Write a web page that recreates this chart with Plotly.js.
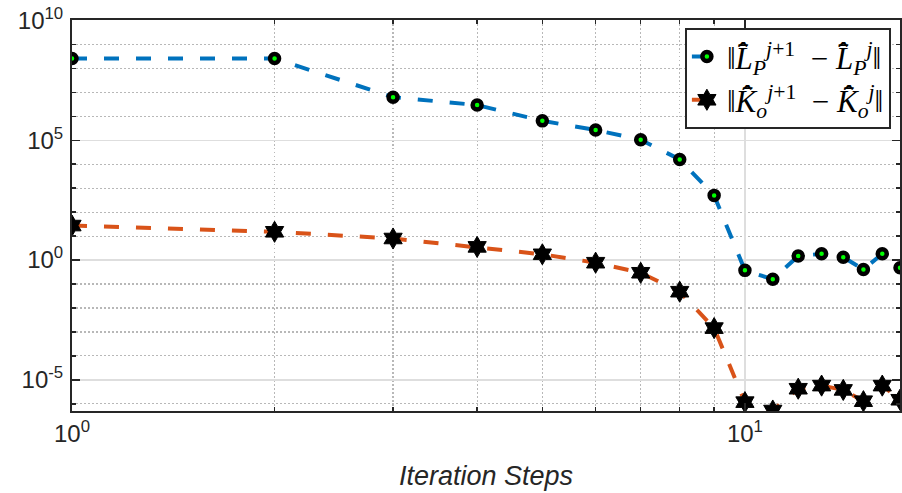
<!DOCTYPE html>
<html>
<head>
<meta charset="utf-8">
<script src="https://cdn.plot.ly/plotly-3.0.1.min.js"></script>
<style>html,body{margin:0;padding:0;background:#fff;}#chart{width:902px;height:493px;}</style>
</head>
<body>
<div id="chart"></div>
<script>
const steps = [1,2,3,4,5,6,7,8,9,10,11,12,13,14,15,16,17];
const logLP = [8.41,8.41,6.80,6.47,5.81,5.43,5.02,4.20,2.70,-0.43,-0.80,0.17,0.26,0.12,-0.39,0.26,-0.32];
const logKo = [1.44,1.18,0.90,0.55,0.24,-0.11,-0.53,-1.32,-2.84,-5.93,-6.28,-5.37,-5.24,-5.42,-5.89,-5.24,-5.83];
const yTickVals = [1e-5,1,1e5,1e10];
const yTickText = ['10<sup>-5</sup>','10<sup>0</sup>','10<sup>5</sup>','10<sup>10</sup>'];
const xTickVals = [1,10];
const xTickText = ['10<sup>0</sup>','10<sup>1</sup>'];
const xMinorVals = [2,3,4,5,6,7,8,9,20];
const yMinorVals = [1e-6,1e-4,1e-3,1e-2,1e-1,1e1,1e2,1e3,1e4,1e6,1e7,1e8,1e9];
const nameLP = '‖<i>L̄̂</i><sub><i>P</i></sub><sup><i>j</i>+1</sup>  − <i>L̄̂</i><sub><i>P</i></sub><sup><i>j</i></sup>‖';
const nameKo = '‖<i>K̄̂</i><sub><i>o</i></sub><sup><i>j</i>+1</sup>  − <i>K̄̂</i><sub><i>o</i></sub><sup><i>j</i></sup>‖';

const LP = logLP.map(v => Math.pow(10, v));
const Ko = logKo.map(v => Math.pow(10, v));

const traces = [
  {x: steps, y: LP, name: nameLP, type: 'scatter', mode: 'lines+markers', cliponaxis: true,
   line: {color: '#0072BD', width: 4, dash: '15px,17px'},
   marker: {symbol: 'circle', size: 9, color: '#00ff00', line: {color: '#000', width: 4.5}}},
  {x: steps, y: Ko, name: nameKo, type: 'scatter', mode: 'lines+markers', cliponaxis: true,
   line: {color: '#D95319', width: 4, dash: '15px,17px'},
   marker: {symbol: 'hexagram', size: 16, color: '#000', line: {color: '#000', width: 1}}}
];

const axisCommon = {
  showline: true, linecolor: '#262626', linewidth: 2, mirror: 'ticks',
  ticks: 'inside', ticklen: 8, tickwidth: 1.5, tickcolor: '#262626',
  showgrid: true, gridcolor: '#dedede', gridwidth: 1.5, zeroline: false,
  tickfont: {family: 'Liberation Sans, Arial, sans-serif', size: 24, color: '#262626'}
};

const layout = {
  width: 902, height: 493,
  margin: {l: 72, r: 2, t: 20, b: 82},
  paper_bgcolor: '#fff', plot_bgcolor: '#fff',
  showlegend: true,
  xaxis: Object.assign({}, axisCommon, {
    type: 'log', range: [0, Math.log10(17)],
    tickvals: xTickVals, ticktext: xTickText,
    minor: {tickvals: xMinorVals, ticks: 'inside', ticklen: 4, tickcolor: '#262626',
            showgrid: true, gridcolor: '#b8b8b8', griddash: '1.5px,2.5px', gridwidth: 1.2},
    title: {text: '<i>Iteration Steps</i>', standoff: 20,
            font: {family: 'Liberation Sans, Arial, sans-serif', size: 27, color: '#262626'}}
  }),
  yaxis: Object.assign({}, axisCommon, {
    type: 'log', range: [-6.3, 10.02],
    tickvals: yTickVals, ticktext: yTickText, ticklabelstandoff: 2,
    minor: {tickvals: yMinorVals, ticks: 'inside', ticklen: 4, tickcolor: '#262626',
            showgrid: true, gridcolor: '#b8b8b8', griddash: '1.5px,2.5px', gridwidth: 1.2}
  }),
  legend: {
    x: 0.989, y: 0.98, xanchor: 'right', yanchor: 'top',
    bgcolor: '#fff', bordercolor: '#262626', borderwidth: 2,
    font: {family: 'Liberation Serif, DejaVu Serif, serif', size: 31, color: '#000'},
    itemwidth: 30, tracegroupgap: 0
  }
};

Plotly.newPlot('chart', traces, layout, {displayModeBar: false, staticPlot: true});
</script>
</body>
</html>
